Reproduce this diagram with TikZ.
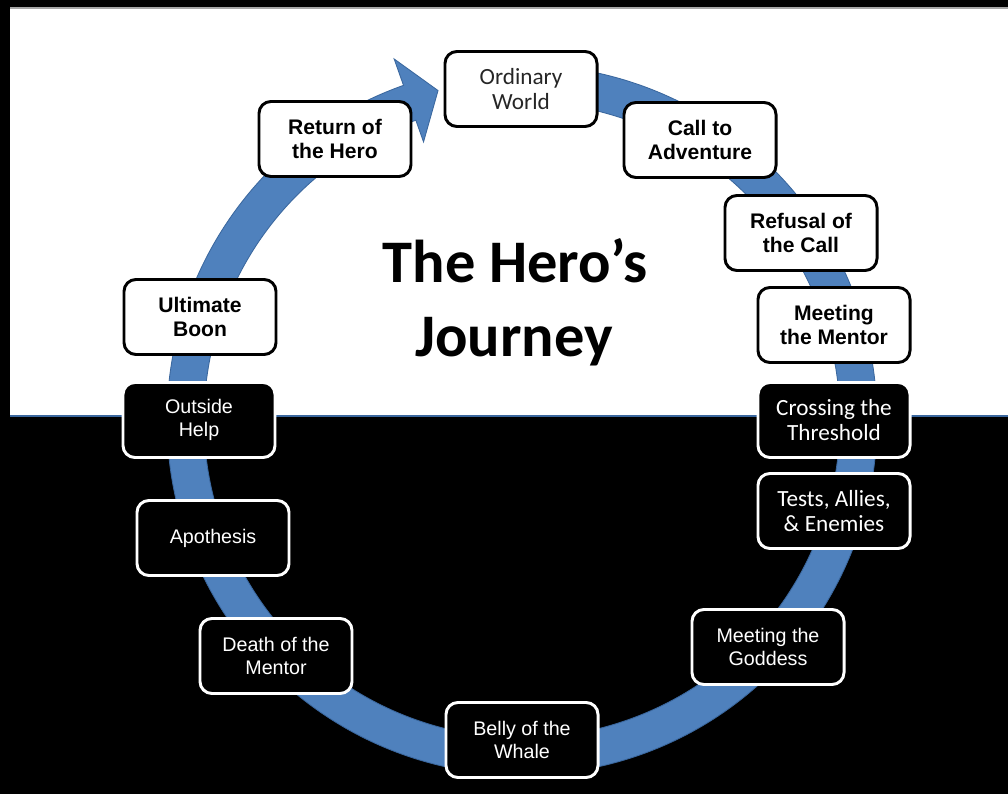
\documentclass[tikz,border=0pt]{standalone}
\usepackage{fontspec}
\usetikzlibrary{calc}
\newfontfamily\calfont{Carlito}
\newfontfamily\arfont{Liberation Sans}
\definecolor{ringblue}{HTML}{4F81BD}
\definecolor{ringedge}{HTML}{3A679E}
\definecolor{owtext}{HTML}{262626}
\tikzset{
  stagebox/.style={rounded corners=8.5pt, line width=2.1pt, minimum width=3.8cm, minimum height=1.875cm, align=center, inner sep=0pt},
  lightbox/.style={stagebox, draw=black, fill=white, text=black, font=\arfont\bfseries\fontsize{15}{17}\selectfont},
  owbox/.style={stagebox, draw=black, fill=white, text=owtext, font=\calfont\fontsize{16.5}{18}\selectfont},
  calbox/.style={stagebox, draw=white, fill=black, text=white, font=\calfont\fontsize{16.5}{18}\selectfont},
  darkbox/.style={stagebox, draw=white, fill=black, text=white, font=\arfont\fontsize{14}{16.4}\selectfont},
  ring/.style={fill=ringblue, draw=ringedge, line width=0.6pt},
  titletext/.style={font=\calfont\bfseries\fontsize{43}{52}\selectfont, anchor=base, inner sep=0pt}
}
\begin{document}
\begin{tikzpicture}[x=0.025cm, y=0.025cm]
\useasboundingbox (0,0) rectangle (1008,794);
% background
\fill[black] (0,0) rectangle (1008,794);
\fill[white] (10,378) rectangle (1008,786);
\draw[gray!70, line width=0.8pt] (10,786) -- (1008,786);
\draw[ringedge, line width=1.6pt] (10,378) -- (1008,378);
% ring
\coordinate (c) at (522,374);
\draw[ring] ($(c)+(97:355)$) arc[start angle=97, end angle=-250.5, radius=355]
  -- ($(c)+(-250.5:383)$) -- ($(c)+(-255.7:340)$) -- ($(c)+(-250.5:295)$)
  -- ($(c)+(-250.5:318)$) arc[start angle=-250.5, end angle=97, radius=318] -- cycle;
% title
\node[titletext] (t1) at (515,511) {The Hero’s};
\node[titletext] (t2) at (514,437) {Journey};
% stages
\node[owbox] (ow) at (521,705) {Ordinary\\World};
\node[lightbox] (ca) at (700,654) {Call to\\Adventure};
\node[lightbox] (rc) at (801,561) {Refusal of\\the Call};
\node[lightbox] (mm) at (834,469) {Meeting\\the Mentor};
\node[calbox] (ct) at (834,374) {Crossing the\\Threshold};
\node[calbox] (ta) at (834,283) {Tests, Allies,\\\& Enemies};
\node[darkbox] (mg) at (768,147) {Meeting the\\Goddess};
\node[darkbox] (bw) at (522,54) {Belly of the\\Whale};
\node[darkbox] (dm) at (276,138) {Death of the\\Mentor};
\node[darkbox] (ap) at (213,256) {Apothesis};
\node[darkbox] (oh) at (199,374) {Outside\\Help};
\node[lightbox] (ub) at (200,477) {Ultimate\\Boon};
\node[lightbox] (rh) at (335,655) {Return of\\the Hero};
\end{tikzpicture}
\end{document}
